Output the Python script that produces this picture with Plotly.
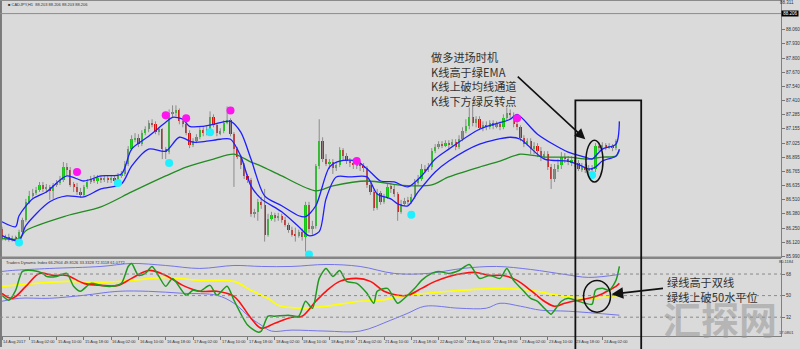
import plotly.graph_objects as go

# ---------------- price data (CADJPY H1), bar index 0 = 14 Aug 2017 18:00 ----------------
first_open = 86.244
closes = [86.153,86.171,86.144,86.162,86.153,86.217,86.325,86.489,86.543,86.570,
          86.598,86.643,86.607,86.625,86.589,86.643,86.661,86.688,86.806,86.779,
          86.643,86.625,86.579,86.552,86.625,86.670,86.697,86.679,86.707,86.688,
          86.707,86.688,86.707,86.679,86.725,86.743,86.834,86.970,87.060,87.069,
          87.015,87.115,87.151,87.205,87.196,87.124,87.151,86.970,86.942,87.296,
          87.305,87.323,87.223,87.196,87.115,87.006,87.042,87.078,87.142,87.115,
          87.151,87.260,87.187,87.115,87.133,87.205,87.233,87.106,86.970,86.897,
          86.824,86.725,86.688,86.380,86.398,86.489,86.462,86.189,86.334,86.371,
          86.344,86.362,86.325,86.280,86.235,86.189,86.180,86.217,86.171,86.462,
          86.244,86.271,86.815,87.042,86.879,86.834,86.852,86.797,86.824,86.960,
          86.906,86.861,86.843,86.824,86.834,86.815,86.797,86.643,86.579,86.434,
          86.570,86.489,86.534,86.625,86.607,86.561,86.398,86.471,86.498,86.489,
          86.534,86.661,86.697,86.788,86.779,86.806,86.951,86.988,87.015,87.006,
          87.024,87.006,87.033,86.988,87.060,87.133,87.178,87.260,87.205,87.242,
          87.160,87.187,87.169,87.205,87.178,87.196,87.169,87.251,87.296,87.278,
          87.196,87.169,87.069,87.015,87.042,86.970,86.997,86.951,86.897,86.924,
          86.806,86.697,86.788,86.824,86.897,86.879,86.852,86.870,86.843,86.788,
          86.806,86.779,86.797,86.788,86.997,86.979,87.006,86.988,86.997,86.979,
          87.042]
highs = [86.262,86.189,86.198,86.180,86.180,86.235,86.344,86.516,86.589,86.607,
         86.625,86.670,86.670,86.652,86.643,86.661,86.688,86.725,86.852,86.843,
         86.806,86.670,86.661,86.616,86.643,86.697,86.725,86.734,86.734,86.725,
         86.734,86.725,86.734,86.725,86.752,86.770,86.861,86.997,87.096,87.115,
         87.106,87.142,87.178,87.233,87.242,87.223,87.169,87.160,86.988,87.332,
         87.369,87.369,87.341,87.251,87.214,87.142,87.069,87.106,87.169,87.169,
         87.178,87.314,87.287,87.205,87.160,87.233,87.359,87.251,87.124,86.988,
         86.915,86.843,86.743,86.707,86.425,86.516,86.534,86.607,86.380,86.398,
         86.389,86.389,86.380,86.353,86.298,86.262,86.253,86.235,86.244,86.489,
         86.489,86.316,86.834,87.242,87.078,86.924,86.879,86.879,86.852,86.988,
         86.979,86.933,86.888,86.870,86.861,86.861,86.843,86.815,86.661,86.598,
         86.607,86.588,86.561,86.652,86.661,86.643,86.579,86.507,86.525,86.534,
         86.561,86.697,86.734,86.834,86.824,86.843,86.979,87.015,87.042,87.042,
         87.051,87.051,87.060,87.060,87.096,87.169,87.242,87.350,87.378,87.269,
         87.269,87.223,87.223,87.233,87.233,87.223,87.223,87.287,87.350,87.332,
         87.305,87.223,87.187,87.096,87.069,87.069,87.033,87.024,86.988,86.951,
         86.951,86.834,86.834,86.879,86.942,86.933,86.906,86.906,86.897,86.870,
         86.843,86.834,86.824,86.824,87.024,87.033,87.033,87.024,87.024,87.015,
         87.060]
lows = [86.135,86.135,86.126,86.126,86.135,86.135,86.189,86.307,86.471,86.525,
        86.552,86.579,86.579,86.570,86.507,86.516,86.625,86.643,86.670,86.734,
        86.625,86.579,86.552,86.525,86.534,86.607,86.652,86.661,86.652,86.661,
        86.670,86.661,86.661,86.652,86.661,86.707,86.725,86.815,86.951,87.033,
        86.988,86.997,87.096,87.124,87.169,87.106,87.096,86.879,86.879,86.924,
        87.260,87.269,87.196,87.169,87.096,86.979,86.988,87.024,87.060,87.087,
        87.096,87.133,87.169,87.087,87.096,87.115,87.196,87.087,86.625,86.879,
        86.788,86.697,86.661,86.353,86.344,86.316,86.425,86.126,86.171,86.316,
        86.307,86.316,86.298,86.262,86.207,86.171,86.126,86.162,86.135,86.035,
        86.207,86.189,86.244,86.788,86.852,86.815,86.788,86.743,86.770,86.806,
        86.861,86.834,86.806,86.788,86.788,86.770,86.761,86.616,86.552,86.407,
        86.416,86.462,86.471,86.516,86.570,86.534,86.316,86.380,86.453,86.462,
        86.471,86.516,86.643,86.679,86.752,86.761,86.779,86.933,86.970,86.979,
        86.988,86.970,86.988,86.960,86.970,87.042,87.115,87.151,87.178,87.169,
        87.142,87.133,87.142,87.151,87.151,87.160,87.142,87.151,87.233,87.242,
        87.169,87.142,87.042,86.988,86.997,86.924,86.924,86.897,86.861,86.879,
        86.779,86.607,86.670,86.761,86.788,86.843,86.824,86.815,86.806,86.770,
        86.761,86.752,86.752,86.770,86.761,86.951,86.960,86.960,86.970,86.951,
        86.960]

# ---------------- price-pane indicators ----------------
blue_up_idx = [0,4,5,9,13,19,24,29,35,38,43,48,50,53,55,59,62,67,70,73,77,82,87,89,92,96,99,104,
               108,111,115,119,123,127,131,140,149,151,157,166,171,173,176,180,181]
blue_up = [86.307,86.262,86.362,86.516,86.579,86.725,86.679,86.725,86.743,86.970,87.087,87.214,
           87.260,87.242,87.178,87.178,87.196,87.223,87.124,86.879,86.543,86.453,86.362,86.353,
           86.453,86.806,86.861,86.861,86.761,86.679,86.670,86.625,86.725,86.879,86.970,87.151,
           87.242,87.287,87.106,86.942,86.897,86.879,86.970,87.015,87.223]
blue_lo_idx = [0,5,7,14,19,24,29,35,38,43,48,52,56,60,64,67,70,73,76,82,87,90,93,95,98,102,107,
               110,114,116,119,122,127,131,140,149,152,159,166,170,172,174,176,180,181]
blue_lo = [86.180,86.135,86.271,86.489,86.543,86.534,86.607,86.652,86.815,86.970,86.951,87.078,
           87.033,87.042,87.060,87.060,86.906,86.634,86.516,86.398,86.262,86.180,86.217,86.516,
           86.716,86.716,86.716,86.561,86.516,86.471,86.453,86.579,86.761,86.861,87.015,87.078,
           87.060,86.879,86.861,86.815,86.788,86.806,86.861,86.906,86.970]
green_idx = [0,5,7,19,29,38,48,54,62,68,73,76,82,92,97,107,116,121,126,131,140,146,152,159,166,
             172,176,180,181]
green_ema = [86.153,86.153,86.226,86.362,86.443,86.579,86.725,86.806,86.879,86.924,86.852,86.815,
             86.725,86.589,86.634,86.679,86.643,86.634,86.643,86.716,86.806,86.861,86.924,86.897,
             86.897,86.879,86.897,86.906,86.960]
cyan_idx = [5, 34, 49, 61, 90, 120, 173]
cyan_val = [86.117, 86.661, 86.843, 87.124, 86.008, 86.371, 86.734]
mag_idx = [22, 48, 54, 67, 104, 151]
mag_val = [86.761, 87.278, 87.251, 87.323, 86.861, 87.251]

price_ticks = [85.990,86.120,86.250,86.380,86.510,86.635,86.765,86.895,87.025,87.155,87.285,
               87.410,87.540,87.670,87.800,87.930,88.060]
bid_price = 88.206

# ---------------- Traders Dynamic Index ----------------
tdi_g_idx = [0,2,4,6,9,12,13,16,19,21,23,26,29,32,35,37,38,40,42,44,46,48,50,54,56,58,61,63,66,68,
             72,75,76,78,80,84,87,89,91,93,95,97,99,101,104,107,109,110,113,116,118,121,123,126,
             128,131,134,137,140,143,146,148,150,153,155,157,159,161,162,164,166,169,171,173,174,
             176,178,180,181]
tdi_green = [50.26,46.11,54.41,70.17,70.99,68.51,66.02,66.02,68.51,57.72,53.58,60.21,58.55,57.72,
             60.21,74.31,76.80,66.85,68.51,74.31,66.02,57.72,64.36,50.26,54.41,53.58,58.55,50.26,
             57.72,46.11,25.38,19.57,20.40,32.84,32.84,33.67,32.84,45.28,39.48,64.36,72.65,66.02,
             70.99,61.87,60.21,51.92,43.62,53.58,56.06,43.62,47.77,56.06,62.70,68.51,70.17,68.51,
             70.99,75.97,64.36,66.85,64.36,72.65,62.70,53.58,47.77,45.28,39.48,34.50,37.82,45.28,
             47.77,45.28,43.62,42.80,54.41,56.06,54.41,62.70,74.31]
tdi_r_idx = [0,3,7,11,15,19,24,29,34,38,43,48,53,58,63,68,73,76,80,85,88,92,95,99,104,108,112,116,
             119,123,127,131,135,139,143,147,151,155,159,162,165,169,172,175,178,180,181]
tdi_red = [51.92,47.77,57.72,68.51,66.85,66.85,60.21,58.55,58.55,64.36,70.99,66.85,58.55,53.58,
           53.58,49.43,31.18,22.89,27.04,32.01,32.84,45.28,53.58,61.87,64.36,61.87,53.58,50.26,
           50.26,56.06,61.87,66.02,68.51,69.34,66.85,66.85,62.70,54.41,45.28,41.14,43.62,46.11,
           47.77,50.26,54.41,57.72,60.21]
tdi_y_idx = [0,10,19,29,38,48,58,68,73,78,81,88,95,105,111,117,131,146,155,163,172,181]
tdi_yellow = [57.72,60.21,61.87,61.04,62.70,65.19,62.70,61.87,54.41,47.77,41.97,39.48,41.14,45.28,
              46.11,49.43,53.58,56.06,54.41,50.26,47.77,50.26]
tdi_up_idx = [0,3,14,29,38,48,58,68,76,85,95,105,115,125,135,145,155,165,172,181]
tdi_up = [70.17,70.99,72.65,74.31,76.80,75.14,72.65,75.14,74.31,74.31,75.97,74.31,68.51,68.51,
          72.65,74.31,71.82,67.68,65.19,67.68]
tdi_lo_idx = [0,5,14,24,34,43,53,63,68,73,76,79,85,95,105,114,119,124,134,142,146,152,158,166,181]
tdi_lo = [45.28,47.77,47.77,50.26,53.58,53.58,51.92,50.26,43.62,31.18,25.38,20.40,21.23,20.40,
          20.40,29.52,35.33,41.14,39.48,39.48,43.62,41.14,37.82,36.99,33.67]
tdi_levels = [32, 50, 68]

time_idx = list(range(0, 177, 8))
time_labels = ["14 Aug 2017", "15 Aug 02:00", "15 Aug 10:00", "15 Aug 18:00", "16 Aug 02:00",
               "16 Aug 10:00", "16 Aug 18:00", "17 Aug 02:00", "17 Aug 10:00", "17 Aug 18:00",
               "18 Aug 02:00", "18 Aug 10:00", "18 Aug 18:00", "21 Aug 02:00", "21 Aug 10:00",
               "21 Aug 18:00", "22 Aug 02:00", "22 Aug 10:00", "22 Aug 18:00", "23 Aug 02:00",
               "23 Aug 10:00", "23 Aug 18:00", "24 Aug 02:00"]

# ---------------- build ----------------
n = len(closes)
idx = list(range(n))
opens = [first_open] + closes[:-1]
BG = "#dadada"
XR = [-0.585, 228.4]
XD = [0, 0.97875]

fig = go.Figure()

wx, wy = [], []
for i in idx:
    wx += [i, i, None]
    wy += [lows[i], highs[i], None]
fig.add_trace(go.Scatter(x=wx, y=wy, mode="lines", line=dict(color="#8c8c8c", width=1),
                         hoverinfo="skip", xaxis="x", yaxis="y"))
fig.add_trace(go.Bar(x=idx, base=opens, y=[c - o for o, c in zip(opens, closes)], width=0.66,
                     marker=dict(color=["#12c812" if c >= o else "#dc0f0f" for o, c in zip(opens, closes)],
                                 line=dict(width=0)),
                     xaxis="x", yaxis="y"))
fig.add_trace(go.Scatter(x=green_idx, y=green_ema, mode="lines",
                         line=dict(color="#228b22", width=1.3, shape="spline", smoothing=0.8),
                         xaxis="x", yaxis="y"))
fig.add_trace(go.Scatter(x=blue_up_idx, y=blue_up, mode="lines",
                         line=dict(color="#1e1eff", width=1.3, shape="spline", smoothing=0.8),
                         xaxis="x", yaxis="y"))
fig.add_trace(go.Scatter(x=blue_lo_idx, y=blue_lo, mode="lines",
                         line=dict(color="#1e1eff", width=1.3, shape="spline", smoothing=0.8),
                         xaxis="x", yaxis="y"))
fig.add_trace(go.Scatter(x=cyan_idx, y=cyan_val, mode="markers",
                         marker=dict(color="#1ef0ff", size=8), xaxis="x", yaxis="y"))
fig.add_trace(go.Scatter(x=mag_idx, y=mag_val, mode="markers",
                         marker=dict(color="#ff14f0", size=8), xaxis="x", yaxis="y"))

# TDI pane
fig.add_trace(go.Scatter(x=tdi_up_idx, y=tdi_up, mode="lines",
                         line=dict(color="#7474ea", width=1, shape="spline"), xaxis="x2", yaxis="y2"))
fig.add_trace(go.Scatter(x=tdi_lo_idx, y=tdi_lo, mode="lines",
                         line=dict(color="#7474ea", width=1, shape="spline"), xaxis="x2", yaxis="y2"))
fig.add_trace(go.Scatter(x=tdi_y_idx, y=tdi_yellow, mode="lines",
                         line=dict(color="#ffff00", width=1.6, shape="spline"), xaxis="x2", yaxis="y2"))
fig.add_trace(go.Scatter(x=tdi_r_idx, y=tdi_red, mode="lines",
                         line=dict(color="#ff1010", width=1.6, shape="spline"), xaxis="x2", yaxis="y2"))
fig.add_trace(go.Scatter(x=tdi_g_idx, y=tdi_green, mode="lines",
                         line=dict(color="#1f9a1f", width=1.5, shape="spline", smoothing=0.7),
                         xaxis="x2", yaxis="y2"))

tickfont = dict(family="Liberation Sans", size=4.5, color="#333333")
fig.update_layout(
    width=800, height=349, autosize=False, margin=dict(l=0, r=0, t=0, b=0),
    paper_bgcolor=BG, plot_bgcolor=BG, showlegend=False, bargap=0,
    xaxis=dict(domain=XD, range=XR, anchor="y", showgrid=False, zeroline=False,
               showticklabels=False, ticks=""),
    yaxis=dict(domain=[0.25788, 1], range=[85.981, 88.33], side="right", anchor="x",
               tickvals=price_ticks, ticktext=["%.3f" % v for v in price_ticks],
               tickfont=tickfont, ticks="outside", ticklen=3, tickcolor="#777",
               showline=True, linecolor="#808080", linewidth=1, showgrid=False, zeroline=False),
    xaxis2=dict(domain=XD, range=XR, anchor="y2", showgrid=False, zeroline=False,
                tickvals=time_idx, showticklabels=False, ticks="outside", ticklen=3,
                tickcolor="#777", showline=True, linecolor="#808080", linewidth=1),
    yaxis2=dict(domain=[0.03152, 0.25215], range=[16.25, 80.12], side="right", anchor="x2",
                tickvals=tdi_levels, ticktext=[str(v) for v in tdi_levels], tickfont=tickfont,
                ticks="outside", ticklen=3, tickcolor="#777", showline=True,
                linecolor="#808080", linewidth=1, showgrid=False, zeroline=False),
)

shapes = []
# pane frame
shapes.append(dict(type="line", xref="paper", yref="paper", x0=0.0012, x1=0.0012, y0=0, y1=1,
                   line=dict(color="#7a7a7a", width=2)))
shapes.append(dict(type="line", xref="paper", yref="paper", x0=0, x1=XD[1], y0=0.999, y1=0.999,
                   line=dict(color="#8a8a8a", width=1.5)))
shapes.append(dict(type="rect", xref="paper", yref="paper", x0=0, x1=XD[1], y0=0.2536, y1=0.2608,
                   fillcolor="#858585", line=dict(width=0)))
# bid line
shapes.append(dict(type="line", xref="paper", yref="y", x0=0, x1=XD[1], y0=bid_price, y1=bid_price,
                   line=dict(color="#8c8c8c", width=1)))
# TDI levels
for lv in tdi_levels:
    shapes.append(dict(type="line", xref="paper", yref="y2", x0=0, x1=XD[1], y0=lv, y1=lv,
                       line=dict(color="#8a8a8a", width=1, dash="dot")))
# annotation graphics
shapes.append(dict(type="rect", xref="x", yref="paper", x0=168.1, x1=187.4, y0=-0.02, y1=0.7106,
                   line=dict(color="#111111", width=1.8)))
shapes.append(dict(type="circle", xref="x", yref="y", x0=171.2, x1=176.2, y0=86.670, y1=87.051,
                   line=dict(color="#111111", width=1.5)))
shapes.append(dict(type="circle", xref="x2", yref="y2", x0=170.5, x1=178.4, y0=36.16, y1=62.70,
                   line=dict(color="#111111", width=1.5)))
fig.update_layout(shapes=shapes)

ann = []
small = dict(family="Liberation Sans", size=4, color="#333333")
for i, t in zip(time_idx, time_labels):
    ann.append(dict(x=i - 0.2, y=0.0172, xref="x2", yref="paper", text=t, showarrow=False,
                    xanchor="left", yanchor="middle", font=small))
ann.append(dict(x=0.008, y=0.987, xref="paper", yref="paper", showarrow=False, xanchor="left",
                yanchor="middle", text="■ CADJPY,H1  88.203 88.206 88.203 88.206", font=small))
ann.append(dict(x=0.005, y=0.2435, xref="paper", yref="paper", showarrow=False, xanchor="left",
                yanchor="middle", text="Traders Dynamic Index 66.2904 49.8126 33.3328 72.3118 61.0772",
                font=small))
ann.append(dict(x=XD[1], y=bid_price, xref="paper", yref="y", showarrow=False, xanchor="left",
                yanchor="middle", text=" %.3f " % bid_price, bgcolor="#000000", borderpad=0,
                font=dict(family="Liberation Sans", size=4.5, color="#ffffff")))
ann.append(dict(x=0.998, y=0.994, xref="paper", yref="paper", showarrow=False,
                xanchor="right", yanchor="middle", text="88.311", font=tickfont))
ann.append(dict(x=0.998, y=0.2465, xref="paper", yref="paper", showarrow=False,
                xanchor="right", yanchor="middle", text="80.1184",
                font=dict(family="Liberation Sans", size=4, color="#333333")))
ann.append(dict(x=0.998, y=0.0405, xref="paper", yref="paper", showarrow=False,
                xanchor="right", yanchor="middle", text="17.0801",
                font=dict(family="Liberation Sans", size=4, color="#333333")))
# watermark
ann.append(dict(x=0.902, y=0.0, xref="paper", yref="paper", text="<b>汇探网</b>", showarrow=False,
                xanchor="center", yanchor="bottom",
                font=dict(family="Noto Sans CJK SC", size=38, color="rgba(150,150,150,0.55)")))
# Chinese notes
ann.append(dict(x=0.538, y=0.7715, xref="paper", yref="paper",
                text="做多进场时机<br>K线高于绿EMA<br>K线上破均线通道<br>K线下方绿反转点",
                showarrow=False, xanchor="left", yanchor="middle", align="left",
                font=dict(family="Noto Sans CJK SC", size=11.2, color="#333333")))
ann.append(dict(x=0.833, y=0.1665, xref="paper", yref="paper",
                text="绿线高于双线<br>绿线上破50水平位",
                showarrow=False, xanchor="left", yanchor="middle", align="left",
                font=dict(family="Noto Sans CJK SC", size=11.2, color="#333333")))
# arrows
ann.append(dict(x=171.0, y=87.060, xref="x", yref="y", ax=-69, ay=-64, text="", showarrow=True,
                arrowhead=2, arrowsize=1.3, arrowwidth=1.6, arrowcolor="#111111"))
ann.append(dict(x=178.7, y=51.09, xref="x2", yref="y2", ax=53, ay=-6, text="", showarrow=True,
                arrowhead=2, arrowsize=1.3, arrowwidth=1.8, arrowcolor="#111111"))
fig.update_layout(annotations=ann)

fig.write_html("out.html")
